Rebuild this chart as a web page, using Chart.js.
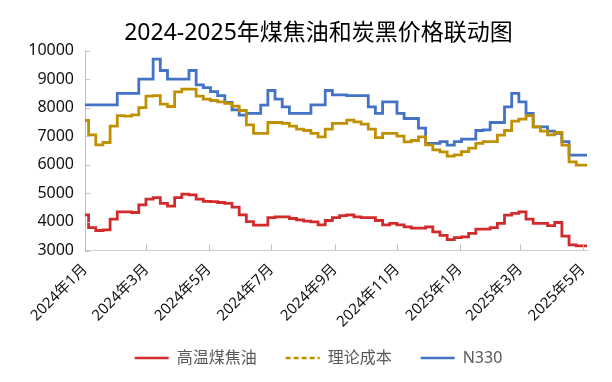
<!DOCTYPE html>
<html>
<head>
<meta charset="utf-8">
<script src="https://cdn.jsdelivr.net/npm/chart.js@4.4.1/dist/chart.umd.min.js"></script>
<style>
  html, body { margin: 0; padding: 0; background: #ffffff; }
  #wrap { width: 612px; height: 382px; position: relative; }
</style>
</head>
<body>
<div id="wrap"><canvas id="c"></canvas></div>
<script>
// ---------------- data ----------------
const chartTitle = '2024-2025年煤焦油和炭黑价格联动图';
const seriesNames = ['高温煤焦油', '理论成本', 'N330'];
const startDate = '2024-01-01';      // first weekly observation
const stepDays = 7;                  // weekly observations
const axisEndDate = '2025-05-06';

// 高温煤焦油 (weekly, yuan/t)
const coalTarPrice = [
  4250, 3800, 3700, 3720, 4100, 4350, 4350, 4330, 4600, 4800,
  4850, 4650, 4550, 4850, 4970, 4950, 4800, 4720, 4710, 4680,
  4650, 4520, 4250, 4010, 3890, 3890, 4150, 4180, 4180, 4120,
  4070, 4030, 4000, 3900, 4050, 4150, 4220, 4250, 4180, 4150,
  4150, 4050, 3900, 3950, 3900, 3830, 3780, 3780, 3830, 3650,
  3530, 3380, 3450, 3480, 3600, 3750, 3750, 3800, 3950, 4240,
  4300, 4350, 4100, 3950, 3950, 3870, 3980, 3500, 3200, 3160,
  3160
];
// 理论成本
const theoreticalCost = [
  7550, 7050, 6700, 6780, 7350, 7720, 7700, 7750, 8000, 8400,
  8420, 8120, 8040, 8550, 8650, 8650, 8400, 8300, 8250, 8200,
  8150, 8050, 7900, 7400, 7100, 7100, 7480, 7480, 7450, 7350,
  7250, 7200, 7100, 6980, 7250, 7450, 7450, 7560, 7500, 7420,
  7250, 6950, 7100, 7100, 7000, 6800, 6850, 6980, 6700, 6520,
  6450, 6300, 6350, 6460, 6580, 6750, 6810, 6810, 7040, 7200,
  7530, 7600, 7720, 7330, 7180, 7050, 7130, 6690, 6100, 5990,
  5990
];
// N330
const n330Price = [
  8100, 8100, 8100, 8100, 8100, 8500, 8500, 8500, 9000, 9000,
  9700, 9300, 9000, 9000, 9000, 9300, 8800, 8700, 8560, 8420,
  8185, 7920, 7740, 7800, 7800, 8090, 8600, 8300, 8030, 7800,
  7800, 7800, 8100, 8100, 8600, 8450, 8450, 8420, 8420, 8420,
  8030, 7800, 8200, 8200, 7800, 7620, 7620, 7280, 6750, 6750,
  6810, 6690, 6810, 6900, 6900, 7200, 7220, 7480, 7480, 8030,
  8500, 8200, 7800, 7330, 7330, 7180, 7100, 6810, 6340, 6340,
  6340
];

const tickDates = ['2024-01-01', '2024-03-01', '2024-05-01', '2024-07-01', '2024-09-01',
                   '2024-11-01', '2025-01-01', '2025-03-01', '2025-05-01'];
const tickLabels = ['2024年1月', '2024年3月', '2024年5月', '2024年7月', '2024年9月',
                    '2024年11月', '2025年1月', '2025年3月', '2025年5月'];
const yTickValues = [3000, 4000, 5000, 6000, 7000, 8000, 9000, 10000];

// ---------------- helpers ----------------
const DAY = 86400000;
const dayOffset = (s) => (Date.parse(s) - Date.parse(startDate)) / DAY;
const toPoints = (arr) => arr.map((v, i) => ({ x: i * stepDays, y: v }));
const tickDays = tickDates.map(dayOffset);

const FONT = "'Noto Sans', 'Noto Sans CJK SC', sans-serif";
Chart.defaults.font.family = FONT;

const insideTicks = {
  id: 'insideTicks',
  afterDatasetsDraw(chart) {
    const { ctx, chartArea, scales: { x, y } } = chart;
    ctx.save();
    ctx.strokeStyle = '#BFBFBF';
    ctx.lineWidth = 1;
    ctx.beginPath();
    y.ticks.forEach(t => {
      const py = Math.round(y.getPixelForValue(t.value)) + 0.5;
      ctx.moveTo(chartArea.left, py);
      ctx.lineTo(chartArea.left + 5, py);
    });
    x.ticks.forEach(t => {
      const px = Math.round(x.getPixelForValue(t.value)) + 0.5;
      ctx.moveTo(px, chartArea.bottom);
      ctx.lineTo(px, chartArea.bottom - 6);
    });
    ctx.stroke();
    ctx.restore();
  }
};

const noLabelClip = (scale) => { scale._computeLabelArea = () => null; };

const lineBase = { pointRadius: 0, pointHoverRadius: 0, borderWidth: 2.8, stepped: 'middle', fill: false, tension: 0 };

new Chart(document.getElementById('c'), {
  type: 'line',
  data: {
    datasets: [
      Object.assign({ label: seriesNames[0], data: toPoints(coalTarPrice), borderColor: '#D22B2B', backgroundColor: '#D22B2B' }, lineBase),
      Object.assign({ label: seriesNames[1], data: toPoints(theoreticalCost), borderColor: '#BF9000', backgroundColor: '#BF9000' }, lineBase),
      Object.assign({ label: seriesNames[2], data: toPoints(n330Price), borderColor: '#4472C4', backgroundColor: '#4472C4' }, lineBase)
    ]
  },
  options: {
    responsive: true,
    maintainAspectRatio: false,
    animation: false,
    devicePixelRatio: 1,
    layout: { padding: { left: 49, right: 24, top: 0, bottom: 6 } },
    plugins: {
      title: {
        display: true,
        text: chartTitle,
        color: '#000000',
        font: { size: 23, weight: 'normal', family: FONT },
        padding: { top: 19.5, bottom: 3.4 }
      },
      legend: {
        position: 'bottom',
        labels: {
          usePointStyle: true,
          pointStyle: 'line',
          pointStyleWidth: 34,
          padding: 29,
          color: '#595959',
          font: { size: 16, family: FONT },
          generateLabels(chart) {
            const items = Chart.defaults.plugins.legend.labels.generateLabels(chart);
            items.forEach((it, i) => {
              it.pointStyle = 'line';
              it.lineWidth = 2.6;
              if (i === 1) it.lineDash = [5, 3];
            });
            return items;
          }
        }
      },
      tooltip: { enabled: false }
    },
    scales: {
      x: {
        type: 'linear',
        min: 0,
        max: dayOffset(axisEndDate),
        afterBuildTicks(scale) { scale.ticks = tickDays.map(v => ({ value: v })); },
        afterFit(scale) { scale.height = 70.5; noLabelClip(scale); },
        ticks: {
          autoSkip: false,
          minRotation: 45,
          maxRotation: 45,
          padding: 10,
          color: '#111111',
          font: { size: 15, family: FONT },
          callback: (value, index) => tickLabels[index]
        },
        grid: { display: true, drawOnChartArea: false, drawTicks: false },
        border: { display: true, color: '#D0D0D0', width: 1 }
      },
      y: {
        min: 3000,
        max: 10000,
        afterBuildTicks(scale) { scale.ticks = yTickValues.map(v => ({ value: v })); },
        afterFit(scale) { scale.width = 36; noLabelClip(scale); },
        ticks: {
          padding: 11,
          color: '#111111',
          font: { size: 16, family: FONT },
          callback: (value) => String(value)
        },
        grid: { display: true, drawOnChartArea: false, drawTicks: false },
        border: { display: true, color: '#BFBFBF', width: 1 }
      }
    }
  },
  plugins: [insideTicks]
});
</script>
</body>
</html>
